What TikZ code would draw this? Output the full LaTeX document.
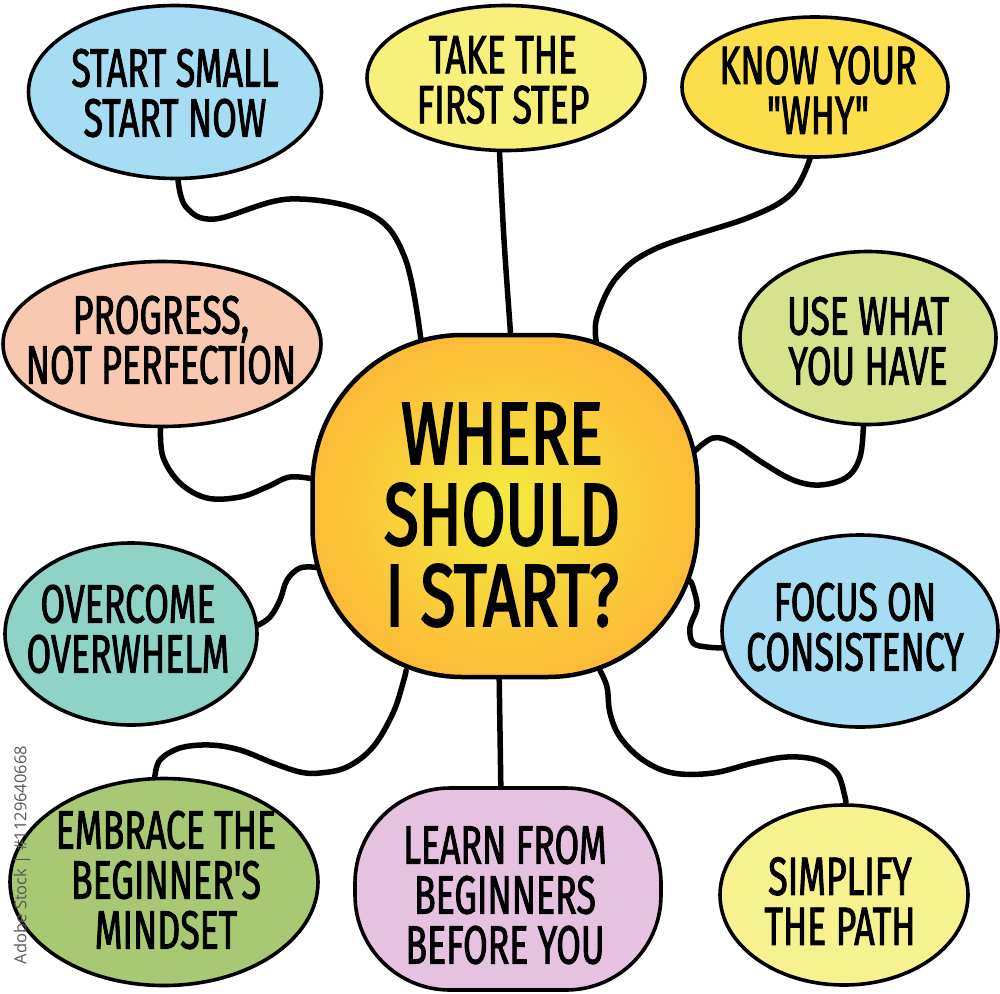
\documentclass[tikz,border=0pt]{standalone}
\usepackage{fontspec}
\newfontfamily\hand[FakeStretch=0.66, FakeBold=1.6]{Fira Sans}
\newfontfamily\handc[FakeStretch=0.72, FakeBold=2.4]{Fira Sans}
\newfontfamily\wmfont{Open Sans}
\usetikzlibrary{shapes.geometric,calc}
\pgfdeclarelayer{bg}
\pgfsetlayers{bg,main}
\definecolor{cBlue}{HTML}{A6DCF4}
\definecolor{cYelA}{HTML}{F7F07B}
\definecolor{cGold}{HTML}{FCDD4A}
\definecolor{cSalmon}{HTML}{F8C8B0}
\definecolor{cLime}{HTML}{D7E38C}
\definecolor{cTeal}{HTML}{8FD3C7}
\definecolor{cGreen}{HTML}{A8C873}
\definecolor{cLav}{HTML}{E5C3E0}
\definecolor{cYelB}{HTML}{F6F28F}
\definecolor{cInner}{HTML}{F3EC3E}
\definecolor{cOuter}{HTML}{FDBC38}
\begin{document}
\begin{tikzpicture}[x=1pt,y=-1pt,
  bub/.style={ellipse, draw=black, line width=3.6pt, inner sep=0pt},
  txt/.style={align=center, text=black, font=\hand\fontsize{54}{50}\selectfont},
  ctxt/.style={align=center, text=black, font=\handc\fontsize{88}{81}\selectfont},
  conn/.style={line width=5.5pt, line cap=round, line join=round}]
\useasboundingbox (0,0) rectangle (1000,993);

% centre
\node[draw=black, line width=4.5pt, rectangle, rounded corners=150pt,
      minimum width=385pt, minimum height=342pt, inner color=cInner, outer color=cOuter]
      (c) at (505,506) {};
\node[ctxt] (ct) at (502,515) {WHERE\\SHOULD\\I START?};

% outer bubbles
\node[bub, fill=cBlue, minimum width=293pt, minimum height=173pt] (n1) at (175,92) {};
\node[txt] (t1) at (175,93) {START SMALL\\START NOW};

\node[bub, fill=cYelA, minimum width=278pt, minimum height=145pt] (n2) at (506,78) {};
\node[txt] (t2) at (503,80) {TAKE THE\\FIRST STEP};

\node[bub, fill=cGold, minimum width=266pt, minimum height=140pt] (n3) at (815,87) {};
\node[txt] (t3) at (818,90) {KNOW YOUR\\"WHY"};

\node[bub, fill=cSalmon, minimum width=318pt, minimum height=165pt] (n4) at (162,344) {};
\node[txt] (t4) at (161,340) {PROGRESS,\\NOT PERFECTION};

\node[bub, fill=cLime, minimum width=256pt, minimum height=173pt] (n5) at (868,338) {};
\node[txt] (t5) at (868,341) {USE WHAT\\YOU HAVE};

\node[bub, fill=cTeal, minimum width=252pt, minimum height=182pt] (n7) at (131,634) {};
\node[txt] (t7) at (128,629) {OVERCOME\\OVERWHELM};

\node[bub, fill=cBlue, minimum width=276pt, minimum height=192pt] (n8) at (860,631) {};
\node[txt] (t8) at (855,627) {FOCUS ON\\CONSISTENCY};

\node[bub, fill=cGreen, minimum width=308pt, minimum height=207pt] (n9) at (164,882) {};
\node[txt] (t9) at (166,880) {EMBRACE THE\\BEGINNER'S\\MINDSET};

\node[draw=black, line width=3.6pt, rectangle, rounded corners=95pt, fill=cLav,
      minimum width=306pt, minimum height=202pt] (n10) at (508,889) {};
\node[txt] (t10) at (505,895) {LEARN FROM\\BEGINNERS\\BEFORE YOU};

\node[bub, fill=cYelB, minimum width=248pt, minimum height=180pt] (n11) at (844,895) {};
\node[txt] (t11) at (840,901) {SIMPLIFY\\THE PATH};

% watermark id
\node[rotate=90, text=black!65, font=\wmfont\fontsize{16.5}{16}\selectfont] (wm) at (22,855) {Adobe Stock | \#1129640668};

% background and connectors
\begin{pgfonlayer}{bg}
\fill[white] (0,0) rectangle (1000,993);
\draw[conn] plot[smooth, tension=0.6] coordinates {(n1.-88) (186,207) (215,219) (290,199) (370,214) (405,258) ($(c.center)!0.95!(c.117)$)};
\draw[conn] plot[smooth] coordinates {(n2.-95) (504,240) ($(c.center)!0.97!(c.88)$)};
\draw[conn] plot[smooth, tension=0.6] coordinates {(n3.-94) (792,193) (750,217) (657,248) (617,277) (597,317) ($(c.center)!0.95!(c.61)$)};
\draw[conn] plot[smooth, tension=0.6] coordinates {(n4.-91) (163,457) (180,483) (207,498) (240,497) (267,487) (290,477) ($(c.center)!0.97!(c.172)$)};
\draw[conn] plot[smooth, tension=0.6] coordinates {(n5.-93) (860,457) (847,477) (820,485) (793,480) (763,463) (733,443) (713,438) ($(c.center)!0.97!(c.16)$)};
\draw[conn] plot[smooth, tension=0.6] coordinates {(n7.4) (270,617) (280,600) (287,580) (300,568) ($(c.center)!0.97!(c.198)$)};
\draw[conn] plot[smooth, tension=0.6] coordinates {($(c.center)!0.95!(c.-22)$) (693,587) (697,607) (690,627) (693,643) (707,647) (n8.187)};
\draw[conn] plot[smooth, tension=0.6] coordinates {(n9.95) (160,760) (180,748) (210,745) (240,750) (273,763) (300,772) (320,773) (347,767) (373,747) (393,713) (403,683) ($(c.center)!0.95!(c.239)$)};
\draw[conn] ($(c.center)!0.97!(c.268)$) -- (n10.94);
\draw[conn] plot[smooth, tension=0.6] coordinates {($(c.center)!0.95!(c.300)$) (607,687) (610,713) (620,737) (643,760) (673,773) (713,773) (753,763) (787,757) (817,760) (837,773) (845,797) (n11.89)};
\end{pgfonlayer}
\end{tikzpicture}
\end{document}
